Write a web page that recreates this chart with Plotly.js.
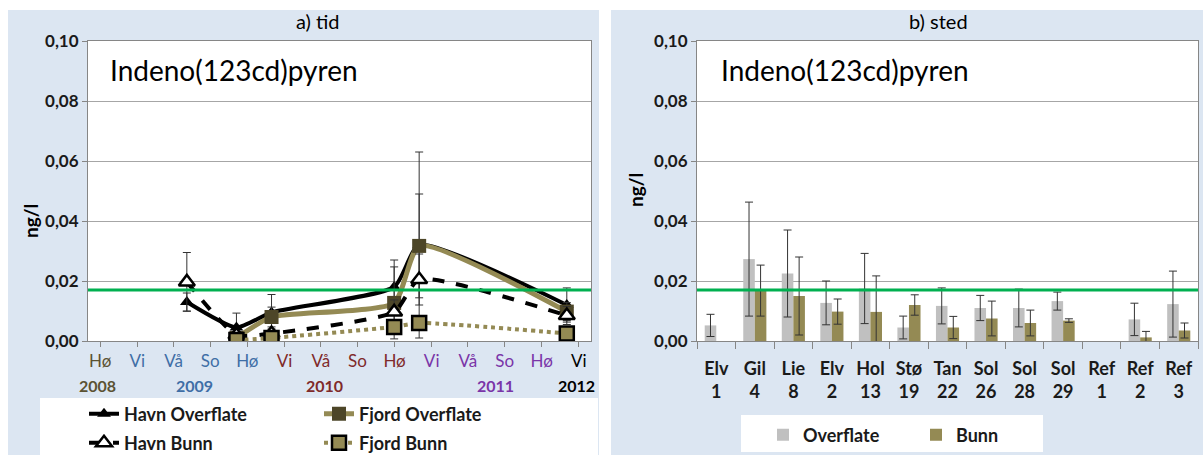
<!DOCTYPE html>
<html>
<head>
<meta charset="utf-8">
<script src="https://cdn.plot.ly/plotly-3.0.1.min.js"></script>
<style>html,body{margin:0;padding:0;background:#fff}#chart{width:1203px;height:455px}</style>
</head>
<body>
<div id="chart"></div>
<script>
// ---------- data: a) tid ----------
const tidTickDates = ['2008-10-01','2009-01-01','2009-04-01','2009-07-01','2009-10-01','2010-01-01','2010-04-01','2010-07-01','2010-10-01','2011-01-01','2011-04-01','2011-07-01','2011-10-01','2012-01-01'];
const sesongLabels = ['Hø','Vi','Vå','So','Hø','Vi','Vå','So','Hø','Vi','Vå','So','Hø','Vi'];
const sesongAar = [2008,2009,2009,2009,2009,2010,2010,2010,2010,2011,2011,2011,2011,2012];
const aarLabels = ['2008','2009','2010','2011','2012'];
const aarDates = ['2008-09-24','2009-05-23','2010-04-10','2011-06-09','2011-12-27'];

const havnOverflateDates = ['2009-05-04','2009-09-04','2009-11-30','2010-09-30','2010-12-01','2011-12-02'];
const havnOverflate      = [0.013, 0.0045, 0.0095, 0.018, 0.032, 0.012];
const havnOverflateErr   = [0.003, 0.0048, 0.006, 0.009, 0.031, 0.0057];

const fjordOverflateDates = ['2009-09-04','2009-11-30','2010-09-30','2010-12-01','2011-12-02'];
const fjordOverflate      = [0.001, 0.008, 0.0127, 0.0317, 0.0098];
const fjordOverflateErr   = [0.001, 0.0033, 0.012, 0.0173, 0.003];

const havnBunnDates = ['2009-05-04','2009-09-04','2009-11-30','2010-09-30','2010-12-01','2011-12-02'];
const havnBunn      = [0.0197, 0.002, 0.0025, 0.0097, 0.0205, 0.0085];
const havnBunnErr   = [0.0098, 0.001, 0.0015, 0.004, 0.0085, 0.003];

const fjordBunnDates = ['2009-09-04','2009-11-30','2010-09-30','2010-12-01','2011-12-02'];
const fjordBunn      = [0.0003, 0.001, 0.0047, 0.006, 0.0025];
const fjordBunnErr   = [0.0003, 0.0005, 0.001, 0.001, 0.0005];

// ---------- data: b) sted ----------
const stasjoner = ['Elv<br>1','Gil<br>4','Lie<br>8','Elv<br>2','Hol<br>13','Stø<br>19','Tan<br>22','Sol<br>26','Sol<br>28','Sol<br>29','Ref<br>1','Ref<br>2','Ref<br>3'];
const overflate    = [0.0052, 0.0273, 0.0225, 0.0127, 0.0175, 0.0045, 0.0117, 0.011, 0.011, 0.0133, null, 0.0072, 0.0123];
const overflateErr = [0.0037, 0.019, 0.0145, 0.0073, 0.0117, 0.0038, 0.006, 0.0042, 0.0063, 0.003, null, 0.0054, 0.011];
const bunn    = [null, 0.0168, 0.015, 0.0098, 0.0097, 0.012, 0.0045, 0.0075, 0.006, 0.0068, null, 0.0012, 0.0035];
const bunnErr = [null, 0.0085, 0.013, 0.0042, 0.012, 0.0034, 0.0037, 0.0058, 0.0043, 0.0006, null, 0.002, 0.0025];

const grenseverdi = 0.017;
const stoffNavn = 'Indeno(123cd)pyren';

// ---------- styling ----------
const W = 1203, H = 455;
const px = v => v / W;
const py = v => 1 - v / H;
const FONT = 'Lato, "Open Sans", sans-serif';
const panelBg = '#dce6f2';
const olive = '#948a54';
const darkOlive = '#4d4628';
const aarFarger = {2008:'#5b5232', 2009:'#3f6ea6', 2010:'#7f2a2a', 2011:'#7a35a8', 2012:'#000000'};

const tickText = sesongLabels.map((s, i) => `<span style="color:${aarFarger[sesongAar[i]]}">${s}</span>`);

const errStyle = (arr) => ({type:'data', array: arr, visible:true, color:'#333333', thickness:1, width:4});
const SM = 0.55;

const traces = [
  {
    name:'Havn Overflate', x: havnOverflateDates, y: havnOverflate, xaxis:'x', yaxis:'y',
    mode:'lines+markers', line:{color:'#000000', width:4, shape:'spline', smoothing:SM},
    marker:{symbol:'triangle-up', size:12, color:'#000000'},
    error_y: errStyle(havnOverflateErr), legend:'legend'
  },
  {
    name:'Fjord Overflate', x: fjordOverflateDates, y: fjordOverflate, xaxis:'x', yaxis:'y',
    mode:'lines+markers', line:{color:olive, width:5, shape:'spline', smoothing:SM},
    marker:{symbol:'square', size:14, color:darkOlive},
    error_y: errStyle(fjordOverflateErr), legend:'legend'
  },
  {
    name:'Havn Bunn', x: havnBunnDates, y: havnBunn, xaxis:'x', yaxis:'y',
    mode:'lines+markers', line:{color:'#000000', width:4, dash:'dash', shape:'spline', smoothing:SM},
    marker:{symbol:'triangle-up', size:14, color:'#ffffff', line:{color:'#000000', width:2.5}},
    error_y: errStyle(havnBunnErr), legend:'legend2'
  },
  {
    name:'Fjord Bunn', x: fjordBunnDates, y: fjordBunn, xaxis:'x', yaxis:'y',
    mode:'lines+markers', line:{color:olive, width:4, dash:'dot', shape:'spline', smoothing:SM},
    marker:{symbol:'square', size:14, color:olive, line:{color:'#000000', width:2.5}},
    error_y: errStyle(fjordBunnErr), legend:'legend2'
  },
  {
    name:'Overflate', type:'bar', x: stasjoner, y: overflate, xaxis:'x2', yaxis:'y2',
    marker:{color:'#c0c0c0'}, error_y: errStyle(overflateErr), legend:'legend3'
  },
  {
    name:'Bunn', type:'bar', x: stasjoner, y: bunn, xaxis:'x2', yaxis:'y2',
    marker:{color:olive}, error_y: errStyle(bunnErr), legend:'legend3'
  }
];

const yCommon = {
  range:[0, 0.1], dtick:0.02, tickformat:'.2f', showgrid:true, gridcolor:'#a6a6a6', gridwidth:1,
  showline:true, linecolor:'#868686', linewidth:1, mirror:true, ticks:'outside', ticklen:5, tickcolor:'#868686',
  tickfont:{family:FONT, size:17, color:'#1a1a1a', weight:'bold'}, zeroline:false,
  domain:[py(341), py(41)], fixedrange:true, automargin:false
};

const legendCommon = {
  orientation:'h', bgcolor:'rgba(0,0,0,0)', borderwidth:0,
  font:{family:FONT, size:18, color:'#1a1a1a', weight:'bold'},
  xanchor:'left', yanchor:'middle', entrywidthmode:'pixels', itemclick:false
};

const layout = {
  width: W, height: H,
  margin:{l:0, r:0, t:0, b:0, autoexpand:false},
  paper_bgcolor:'#ffffff', plot_bgcolor:'rgba(0,0,0,0)',
  separators:',.',
  barmode:'group', bargap:0.4, bargroupgap:0,
  showlegend:true,
  font:{family:FONT},
  xaxis:{
    type:'date', domain:[px(88), px(591)], range:['2008-09-01','2012-01-31'],
    tickmode:'array', tickvals: tidTickDates, ticktext: tickText,
    tickfont:{family:FONT, size:17}, ticks:'outside', ticklen:5, tickcolor:'#868686', ticklabelstandoff:0,
    showgrid:false, showline:true, linecolor:'#868686', mirror:true, anchor:'y', fixedrange:true, automargin:false
  },
  yaxis: Object.assign({}, yCommon, {anchor:'x'}),
  xaxis2:{
    type:'category', domain:[px(697), px(1198)], anchor:'y2',
    tickfont:{family:FONT, size:18, color:'#1a1a1a', weight:'bold'},
    ticks:'outside', tickson:'boundaries', ticklen:7, tickcolor:'#868686', ticklabelstandoff:11,
    showgrid:false, showline:true, linecolor:'#868686', mirror:true, fixedrange:true, automargin:false
  },
  yaxis2: Object.assign({}, yCommon, {anchor:'x2'}),
  legend: Object.assign({}, legendCommon, {x: px(84), y: py(414), entrywidth: 190}),
  legend2: Object.assign({}, legendCommon, {x: px(84), y: py(443), entrywidth: 190}),
  legend3: Object.assign({}, legendCommon, {x: px(763), y: py(435), entrywidth: 108}),
  shapes:[
    {type:'rect', xref:'paper', yref:'paper', x0:px(8), x1:px(599), y0:0, y1:py(10), fillcolor:panelBg, line:{width:0}, layer:'below'},
    {type:'rect', xref:'paper', yref:'paper', x0:px(611), x1:1, y0:0, y1:py(10), fillcolor:panelBg, line:{width:0}, layer:'below'},
    {type:'rect', xref:'paper', yref:'paper', x0:px(88), x1:px(591), y0:py(341), y1:py(41), fillcolor:'#ffffff', line:{width:0}, layer:'below'},
    {type:'rect', xref:'paper', yref:'paper', x0:px(697), x1:px(1198), y0:py(341), y1:py(41), fillcolor:'#ffffff', line:{width:0}, layer:'below'},
    {type:'rect', xref:'paper', yref:'paper', x0:px(40), x1:px(598), y0:0, y1:py(398), fillcolor:'#ffffff', line:{width:0}, layer:'below'},
    {type:'rect', xref:'paper', yref:'paper', x0:px(741), x1:px(1043), y0:py(452), y1:py(415), fillcolor:'#ffffff', line:{width:0}, layer:'below'},
    {type:'line', xref:'x domain', yref:'y', x0:0, x1:1, y0:grenseverdi, y1:grenseverdi, line:{color:'#00b050', width:3}, layer:'above'},
    {type:'line', xref:'x2 domain', yref:'y2', x0:0, x1:1, y0:grenseverdi, y1:grenseverdi, line:{color:'#00b050', width:3}, layer:'above'}
  ],
  annotations:[
    {text:'a) tid', xref:'paper', yref:'paper', x:px(318), y:py(21), showarrow:false, font:{family:FONT, size:20, color:'#000'}, xanchor:'center', yanchor:'middle'},
    {text:'b) sted', xref:'paper', yref:'paper', x:px(938), y:py(21), showarrow:false, font:{family:FONT, size:20, color:'#000'}, xanchor:'center', yanchor:'middle'},
    {text:stoffNavn, xref:'paper', yref:'paper', x:px(108), y:py(70), showarrow:false, font:{family:FONT, size:28, color:'#000'}, xanchor:'left', yanchor:'middle'},
    {text:stoffNavn, xref:'paper', yref:'paper', x:px(719), y:py(70), showarrow:false, font:{family:FONT, size:28, color:'#000'}, xanchor:'left', yanchor:'middle'},
    {text:'ng/l', xref:'paper', yref:'paper', x:px(30), y:py(221), showarrow:false, textangle:-90, font:{family:FONT, size:19, color:'#000', weight:'bold'}, xanchor:'center', yanchor:'middle'},
    {text:'ng/l', xref:'paper', yref:'paper', x:px(635), y:py(190), showarrow:false, textangle:-90, font:{family:FONT, size:19, color:'#000', weight:'bold'}, xanchor:'center', yanchor:'middle'}
  ].concat(aarLabels.map((a, i) => ({
    text:a, xref:'x', yref:'paper', x:aarDates[i], y:py(385), showarrow:false,
    font:{family:FONT, size:16, color:aarFarger[+a], weight:'bold'}, xanchor:'center', yanchor:'middle'
  })))
};

Plotly.newPlot('chart', traces, layout, {staticPlot:true, displayModeBar:false});
</script>
</body>
</html>
